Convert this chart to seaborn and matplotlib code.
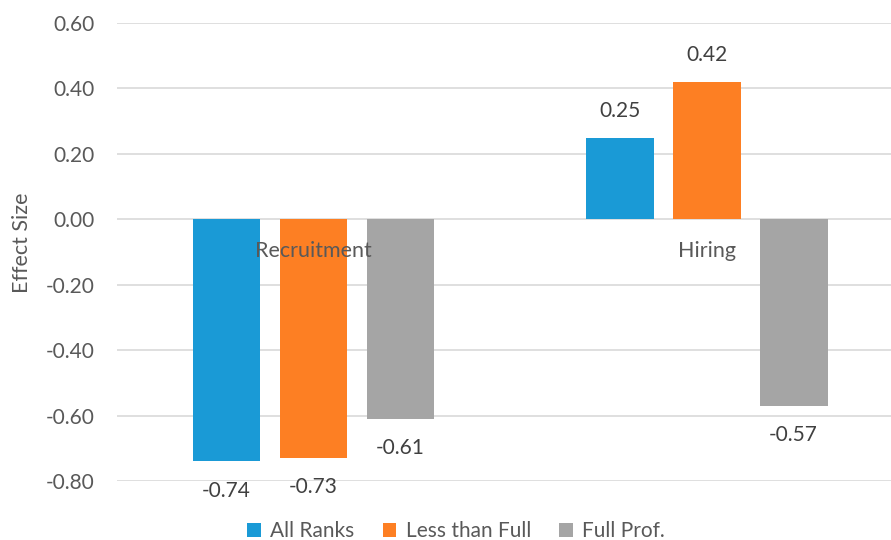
import matplotlib
matplotlib.use("Agg")
import matplotlib.pyplot as plt
import seaborn as sns
import pandas as pd

# Effect sizes by stage and faculty rank
categories = ["Recruitment", "Hiring"]
series = ["All Ranks", "Less than Full", "Full Prof."]
all_ranks = [-0.74, 0.25]
less_than_full = [-0.73, 0.42]
full_prof = [-0.61, -0.57]
y_ticks = [-0.80, -0.60, -0.40, -0.20, 0.00, 0.20, 0.40, 0.60]

colors = ["#1a9ad6", "#fd7f23", "#a5a5a5"]
text_color = "#595959"

values_by_series = [all_ranks, less_than_full, full_prof]
df = pd.DataFrame({
    "Stage": [c for vals in values_by_series for c in categories],
    "Rank": [s for s, vals in zip(series, values_by_series) for _ in vals],
    "Effect Size": [v for vals in values_by_series for v in vals],
})

sns.set_theme(style="white")
plt.rcParams["font.family"] = ["Lato", "DejaVu Sans"]

fig = plt.figure(figsize=(8.91, 5.4), dpi=100)
ax = fig.add_axes([117 / 891, 1 - 481 / 540, 1 - 117 / 891, (481 - 23) / 540])

sns.barplot(data=df, x="Stage", y="Effect Size", hue="Rank",
            order=categories, hue_order=series, palette=colors,
            width=0.664, gap=0.22, saturation=1, linewidth=0,
            ax=ax, zorder=2)

ax.set_ylim(-0.8, 0.6)
ax.set_xlim(-0.5, 1.469)
ax.set_yticks(y_ticks)
ax.set_yticklabels([f"{t:.2f}" for t in y_ticks])
ax.tick_params(axis="y", length=0, pad=16, labelsize=15, labelcolor=text_color)
ax.set_xticks([])
ax.set_xlabel("")
ax.set_ylabel("Effect Size", fontsize=15.5, color=text_color)
ax.yaxis.set_label_coords(-0.110, 0.52)
ax.grid(axis="y", color="#d9d9d9", linewidth=1.2, zorder=0)
ax.grid(axis="x", visible=False)
for s in ax.spines.values():
    s.set_visible(False)

# Category names sit just under the zero line
for i, cat in enumerate(categories):
    ax.annotate(cat, (i, 0), xytext=(0, -22.5), textcoords="offset points",
                ha="center", va="center", fontsize=15.5, color=text_color,
                zorder=5, annotation_clip=False)

# Value labels outside the end of each bar
for container, vals in zip(ax.containers, values_by_series):
    for bar, v in zip(container, vals):
        x = bar.get_x() + bar.get_width() / 2
        off = 19 if v >= 0 else -21
        ax.annotate(f"{v:.2f}", (x, v), xytext=(0, off), textcoords="offset points",
                    ha="center", va="center", fontsize=15, color="#404040",
                    annotation_clip=False)

# Legend along the bottom
handles, labels = ax.get_legend_handles_labels()
ax.get_legend().remove()
fig.legend(handles, labels, loc="center", bbox_to_anchor=(456 / 891, 1 - 531 / 540),
           ncol=3, frameon=False, fontsize=15, labelcolor=text_color,
           handlelength=0.65, handleheight=0.65, handletextpad=0.45,
           columnspacing=1.35, borderaxespad=0)

fig.savefig("out.png", dpi=100)
